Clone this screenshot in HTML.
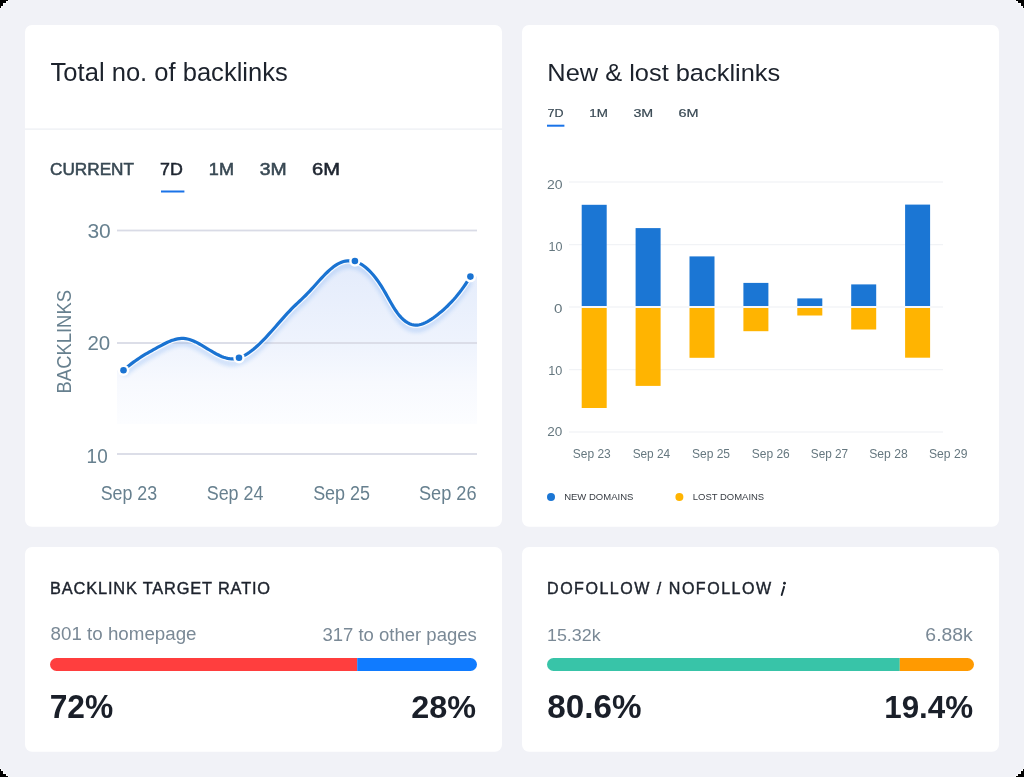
<!DOCTYPE html>
<html><head><meta charset="utf-8"><style>
html,body{margin:0;padding:0;background:#fff;}
svg{display:block;font-family:"Liberation Sans",sans-serif;will-change:transform;opacity:0.999;}
</style></head><body>
<svg width="1024" height="777" viewBox="0 0 1024 777">
<defs>
<linearGradient id="af" gradientUnits="userSpaceOnUse" x1="0" y1="258" x2="0" y2="424">
<stop offset="0" stop-color="#e3ebfb"/>
<stop offset="0.5" stop-color="#eef3fd"/>
<stop offset="0.75" stop-color="#f7f9fe"/>
<stop offset="1" stop-color="#fcfdff"/>
</linearGradient>
<filter id="glow" x="-10%" y="-20%" width="120%" height="150%"><feGaussianBlur stdDeviation="2"/></filter>
</defs>
<rect x="0" y="0" width="1024" height="777" fill="#f1f2f7"/>
<g shape-rendering="crispEdges"><rect x="0" y="0" width="8" height="1" fill="#000"/><rect x="0" y="1" width="6" height="1" fill="#000"/><rect x="0" y="2" width="6" height="1" fill="#000"/><rect x="0" y="3" width="3" height="1" fill="#000"/><rect x="0" y="4" width="3" height="1" fill="#000"/><rect x="0" y="5" width="3" height="1" fill="#000"/><rect x="0" y="6" width="1" height="1" fill="#000"/><rect x="0" y="7" width="1" height="1" fill="#000"/><rect x="8" y="0" width="1" height="1" fill="#fff" opacity="0.85"/><rect x="6" y="1" width="2" height="1" fill="#fff" opacity="0.85"/><rect x="6" y="2" width="1" height="1" fill="#fff" opacity="0.85"/><rect x="3" y="3" width="3" height="1" fill="#fff" opacity="0.85"/><rect x="3" y="4" width="1" height="1" fill="#fff" opacity="0.85"/><rect x="3" y="5" width="1" height="1" fill="#fff" opacity="0.85"/><rect x="1" y="6" width="2" height="1" fill="#fff" opacity="0.85"/><rect x="1" y="7" width="1" height="1" fill="#fff" opacity="0.85"/><rect x="0" y="8" width="1" height="1" fill="#fff" opacity="0.85"/><rect x="1016" y="0" width="8" height="1" fill="#000"/><rect x="1018" y="1" width="6" height="1" fill="#000"/><rect x="1018" y="2" width="6" height="1" fill="#000"/><rect x="1021" y="3" width="3" height="1" fill="#000"/><rect x="1021" y="4" width="3" height="1" fill="#000"/><rect x="1021" y="5" width="3" height="1" fill="#000"/><rect x="1023" y="6" width="1" height="1" fill="#000"/><rect x="1023" y="7" width="1" height="1" fill="#000"/><rect x="1015" y="0" width="1" height="1" fill="#fff" opacity="0.85"/><rect x="1016" y="1" width="2" height="1" fill="#fff" opacity="0.85"/><rect x="1017" y="2" width="1" height="1" fill="#fff" opacity="0.85"/><rect x="1018" y="3" width="3" height="1" fill="#fff" opacity="0.85"/><rect x="1020" y="4" width="1" height="1" fill="#fff" opacity="0.85"/><rect x="1020" y="5" width="1" height="1" fill="#fff" opacity="0.85"/><rect x="1021" y="6" width="2" height="1" fill="#fff" opacity="0.85"/><rect x="1022" y="7" width="1" height="1" fill="#fff" opacity="0.85"/><rect x="1023" y="8" width="1" height="1" fill="#fff" opacity="0.85"/><rect x="0" y="776" width="8" height="1" fill="#000"/><rect x="0" y="775" width="6" height="1" fill="#000"/><rect x="0" y="774" width="6" height="1" fill="#000"/><rect x="0" y="773" width="3" height="1" fill="#000"/><rect x="0" y="772" width="3" height="1" fill="#000"/><rect x="0" y="771" width="3" height="1" fill="#000"/><rect x="0" y="770" width="1" height="1" fill="#000"/><rect x="0" y="769" width="1" height="1" fill="#000"/><rect x="8" y="776" width="1" height="1" fill="#fff" opacity="0.85"/><rect x="6" y="775" width="2" height="1" fill="#fff" opacity="0.85"/><rect x="6" y="774" width="1" height="1" fill="#fff" opacity="0.85"/><rect x="3" y="773" width="3" height="1" fill="#fff" opacity="0.85"/><rect x="3" y="772" width="1" height="1" fill="#fff" opacity="0.85"/><rect x="3" y="771" width="1" height="1" fill="#fff" opacity="0.85"/><rect x="1" y="770" width="2" height="1" fill="#fff" opacity="0.85"/><rect x="1" y="769" width="1" height="1" fill="#fff" opacity="0.85"/><rect x="0" y="768" width="1" height="1" fill="#fff" opacity="0.85"/><rect x="1016" y="776" width="8" height="1" fill="#000"/><rect x="1018" y="775" width="6" height="1" fill="#000"/><rect x="1018" y="774" width="6" height="1" fill="#000"/><rect x="1021" y="773" width="3" height="1" fill="#000"/><rect x="1021" y="772" width="3" height="1" fill="#000"/><rect x="1021" y="771" width="3" height="1" fill="#000"/><rect x="1023" y="770" width="1" height="1" fill="#000"/><rect x="1023" y="769" width="1" height="1" fill="#000"/><rect x="1015" y="776" width="1" height="1" fill="#fff" opacity="0.85"/><rect x="1016" y="775" width="2" height="1" fill="#fff" opacity="0.85"/><rect x="1017" y="774" width="1" height="1" fill="#fff" opacity="0.85"/><rect x="1018" y="773" width="3" height="1" fill="#fff" opacity="0.85"/><rect x="1020" y="772" width="1" height="1" fill="#fff" opacity="0.85"/><rect x="1020" y="771" width="1" height="1" fill="#fff" opacity="0.85"/><rect x="1021" y="770" width="2" height="1" fill="#fff" opacity="0.85"/><rect x="1022" y="769" width="1" height="1" fill="#fff" opacity="0.85"/><rect x="1023" y="768" width="1" height="1" fill="#fff" opacity="0.85"/></g>
<rect x="25" y="25" width="477" height="501.7" rx="7" fill="#fff"/>
<rect x="522" y="25" width="477" height="501.7" rx="7" fill="#fff"/>
<rect x="25" y="547" width="477" height="204.8" rx="7" fill="#fff"/>
<rect x="522" y="547" width="477" height="204.8" rx="7" fill="#fff"/>
<rect x="25" y="128.5" width="477" height="1.2" fill="#eceef3"/>
<rect x="161" y="190.5" width="23.4" height="2" fill="#1a73e8"/>
<rect x="547" y="124.7" width="17.4" height="2" fill="#1a73e8"/>
<!-- bar chart grid -->
<rect x="569" y="181.5" width="374" height="1" fill="#eef0f4"/>
<rect x="569" y="244.2" width="374" height="1" fill="#eef0f4"/>
<rect x="569" y="306.5" width="374" height="1" fill="#eef0f4"/>
<rect x="569" y="369.2" width="374" height="1" fill="#eef0f4"/>
<rect x="569" y="431.5" width="374" height="1" fill="#eef0f4"/>
<rect x="581.7" y="204.8" width="25" height="101.2" fill="#1b76d4"/><rect x="581.7" y="308" width="25" height="100.0" fill="#ffb400"/><rect x="635.6" y="228.1" width="25" height="77.9" fill="#1b76d4"/><rect x="635.6" y="308" width="25" height="77.9" fill="#ffb400"/><rect x="689.5" y="256.4" width="25" height="49.6" fill="#1b76d4"/><rect x="689.5" y="308" width="25" height="49.8" fill="#ffb400"/><rect x="743.4" y="282.9" width="25" height="23.1" fill="#1b76d4"/><rect x="743.4" y="308" width="25" height="23.2" fill="#ffb400"/><rect x="797.3" y="298.4" width="25" height="7.6" fill="#1b76d4"/><rect x="797.3" y="308" width="25" height="7.5" fill="#ffb400"/><rect x="851.2" y="284.4" width="25" height="21.6" fill="#1b76d4"/><rect x="851.2" y="308" width="25" height="21.5" fill="#ffb400"/><rect x="905.1" y="204.6" width="25" height="101.4" fill="#1b76d4"/><rect x="905.1" y="308" width="25" height="49.7" fill="#ffb400"/>
<path d="M123.50,370.30 L125.50,368.52 L127.50,366.82 L129.50,365.19 L131.50,363.63 L133.50,362.14 L135.50,360.70 L137.50,359.32 L139.50,357.99 L141.50,356.70 L143.50,355.45 L145.50,354.24 L147.50,353.06 L149.50,351.91 L151.50,350.78 L153.50,349.66 L155.50,348.56 L157.50,347.47 L159.50,346.38 L161.50,345.30 L163.50,344.25 L165.50,343.24 L167.50,342.29 L169.50,341.41 L171.50,340.61 L173.50,339.92 L175.50,339.34 L177.50,338.89 L179.50,338.58 L181.50,338.43 L183.50,338.45 L185.50,338.66 L187.50,339.03 L189.50,339.57 L191.50,340.24 L193.50,341.03 L195.50,341.94 L197.50,342.94 L199.50,344.01 L201.50,345.15 L203.50,346.33 L205.50,347.54 L207.50,348.76 L209.50,349.99 L211.50,351.19 L213.50,352.36 L215.50,353.48 L217.50,354.54 L219.50,355.52 L221.50,356.40 L223.50,357.17 L225.50,357.81 L227.50,358.31 L229.50,358.64 L231.50,358.81 L233.50,358.78 L235.50,358.56 L237.50,358.15 L239.50,357.56 L241.50,356.80 L243.50,355.89 L245.50,354.82 L247.50,353.61 L249.50,352.27 L251.50,350.80 L253.50,349.21 L255.50,347.52 L257.50,345.73 L259.50,343.86 L261.50,341.90 L263.50,339.87 L265.50,337.78 L267.50,335.63 L269.50,333.44 L271.50,331.22 L273.50,328.96 L275.50,326.69 L277.50,324.41 L279.50,322.13 L281.50,319.86 L283.50,317.61 L285.50,315.38 L287.50,313.19 L289.50,311.05 L291.50,308.97 L293.50,306.95 L295.50,305.00 L297.50,303.11 L299.50,301.23 L301.50,299.36 L303.50,297.45 L305.50,295.49 L307.50,293.45 L309.50,291.33 L311.50,289.16 L313.50,286.96 L315.50,284.73 L317.50,282.51 L319.50,280.30 L321.50,278.12 L323.50,276.00 L325.50,273.95 L327.50,271.99 L329.50,270.14 L331.50,268.41 L333.50,266.82 L335.50,265.39 L337.50,264.14 L339.50,263.08 L341.50,262.22 L343.50,261.55 L345.50,261.09 L347.50,260.82 L349.50,260.74 L351.50,260.87 L353.50,261.19 L355.50,261.71 L357.50,262.43 L359.50,263.34 L361.50,264.45 L363.50,265.76 L365.50,267.26 L367.50,268.97 L369.50,270.87 L371.50,272.97 L373.50,275.26 L375.50,277.76 L377.50,280.45 L379.50,283.34 L381.50,286.42 L383.50,289.71 L385.50,293.16 L387.50,296.72 L389.50,300.29 L391.50,303.80 L393.50,307.16 L395.50,310.28 L397.50,313.13 L399.50,315.65 L401.50,317.86 L403.50,319.77 L405.50,321.37 L407.50,322.68 L409.50,323.70 L411.50,324.44 L413.50,324.91 L415.50,325.10 L417.50,325.04 L419.50,324.75 L421.50,324.23 L423.50,323.52 L425.50,322.64 L427.50,321.59 L429.50,320.41 L431.50,319.11 L433.50,317.71 L435.50,316.24 L437.50,314.70 L439.50,313.10 L441.50,311.43 L443.50,309.70 L445.50,307.88 L447.50,305.98 L449.50,303.99 L451.50,301.91 L453.50,299.73 L455.50,297.45 L457.50,295.05 L459.50,292.54 L461.50,289.91 L463.50,287.15 L465.50,284.26 L467.50,281.24 L469.50,278.07 L470.40,276.59 L477,276.60 L477,424 L117,424 L117,370.30 Z" fill="url(#af)"/>
<rect x="117" y="229.6" width="360" height="1.8" fill="#d9dbe6"/>
<rect x="117" y="342.1" width="360" height="1.8" fill="#d9dbe6"/>
<rect x="117" y="453.1" width="360" height="1.8" fill="#d9dbe6"/>
<path d="M123.50,370.30 L125.50,368.52 L127.50,366.82 L129.50,365.19 L131.50,363.63 L133.50,362.14 L135.50,360.70 L137.50,359.32 L139.50,357.99 L141.50,356.70 L143.50,355.45 L145.50,354.24 L147.50,353.06 L149.50,351.91 L151.50,350.78 L153.50,349.66 L155.50,348.56 L157.50,347.47 L159.50,346.38 L161.50,345.30 L163.50,344.25 L165.50,343.24 L167.50,342.29 L169.50,341.41 L171.50,340.61 L173.50,339.92 L175.50,339.34 L177.50,338.89 L179.50,338.58 L181.50,338.43 L183.50,338.45 L185.50,338.66 L187.50,339.03 L189.50,339.57 L191.50,340.24 L193.50,341.03 L195.50,341.94 L197.50,342.94 L199.50,344.01 L201.50,345.15 L203.50,346.33 L205.50,347.54 L207.50,348.76 L209.50,349.99 L211.50,351.19 L213.50,352.36 L215.50,353.48 L217.50,354.54 L219.50,355.52 L221.50,356.40 L223.50,357.17 L225.50,357.81 L227.50,358.31 L229.50,358.64 L231.50,358.81 L233.50,358.78 L235.50,358.56 L237.50,358.15 L239.50,357.56 L241.50,356.80 L243.50,355.89 L245.50,354.82 L247.50,353.61 L249.50,352.27 L251.50,350.80 L253.50,349.21 L255.50,347.52 L257.50,345.73 L259.50,343.86 L261.50,341.90 L263.50,339.87 L265.50,337.78 L267.50,335.63 L269.50,333.44 L271.50,331.22 L273.50,328.96 L275.50,326.69 L277.50,324.41 L279.50,322.13 L281.50,319.86 L283.50,317.61 L285.50,315.38 L287.50,313.19 L289.50,311.05 L291.50,308.97 L293.50,306.95 L295.50,305.00 L297.50,303.11 L299.50,301.23 L301.50,299.36 L303.50,297.45 L305.50,295.49 L307.50,293.45 L309.50,291.33 L311.50,289.16 L313.50,286.96 L315.50,284.73 L317.50,282.51 L319.50,280.30 L321.50,278.12 L323.50,276.00 L325.50,273.95 L327.50,271.99 L329.50,270.14 L331.50,268.41 L333.50,266.82 L335.50,265.39 L337.50,264.14 L339.50,263.08 L341.50,262.22 L343.50,261.55 L345.50,261.09 L347.50,260.82 L349.50,260.74 L351.50,260.87 L353.50,261.19 L355.50,261.71 L357.50,262.43 L359.50,263.34 L361.50,264.45 L363.50,265.76 L365.50,267.26 L367.50,268.97 L369.50,270.87 L371.50,272.97 L373.50,275.26 L375.50,277.76 L377.50,280.45 L379.50,283.34 L381.50,286.42 L383.50,289.71 L385.50,293.16 L387.50,296.72 L389.50,300.29 L391.50,303.80 L393.50,307.16 L395.50,310.28 L397.50,313.13 L399.50,315.65 L401.50,317.86 L403.50,319.77 L405.50,321.37 L407.50,322.68 L409.50,323.70 L411.50,324.44 L413.50,324.91 L415.50,325.10 L417.50,325.04 L419.50,324.75 L421.50,324.23 L423.50,323.52 L425.50,322.64 L427.50,321.59 L429.50,320.41 L431.50,319.11 L433.50,317.71 L435.50,316.24 L437.50,314.70 L439.50,313.10 L441.50,311.43 L443.50,309.70 L445.50,307.88 L447.50,305.98 L449.50,303.99 L451.50,301.91 L453.50,299.73 L455.50,297.45 L457.50,295.05 L459.50,292.54 L461.50,289.91 L463.50,287.15 L465.50,284.26 L467.50,281.24 L469.50,278.07 L470.40,276.59" fill="none" stroke="#1a73e8" stroke-width="4" transform="translate(0,5)" filter="url(#glow)" opacity="0.22"/>
<path d="M123.50,370.30 L125.50,368.52 L127.50,366.82 L129.50,365.19 L131.50,363.63 L133.50,362.14 L135.50,360.70 L137.50,359.32 L139.50,357.99 L141.50,356.70 L143.50,355.45 L145.50,354.24 L147.50,353.06 L149.50,351.91 L151.50,350.78 L153.50,349.66 L155.50,348.56 L157.50,347.47 L159.50,346.38 L161.50,345.30 L163.50,344.25 L165.50,343.24 L167.50,342.29 L169.50,341.41 L171.50,340.61 L173.50,339.92 L175.50,339.34 L177.50,338.89 L179.50,338.58 L181.50,338.43 L183.50,338.45 L185.50,338.66 L187.50,339.03 L189.50,339.57 L191.50,340.24 L193.50,341.03 L195.50,341.94 L197.50,342.94 L199.50,344.01 L201.50,345.15 L203.50,346.33 L205.50,347.54 L207.50,348.76 L209.50,349.99 L211.50,351.19 L213.50,352.36 L215.50,353.48 L217.50,354.54 L219.50,355.52 L221.50,356.40 L223.50,357.17 L225.50,357.81 L227.50,358.31 L229.50,358.64 L231.50,358.81 L233.50,358.78 L235.50,358.56 L237.50,358.15 L239.50,357.56 L241.50,356.80 L243.50,355.89 L245.50,354.82 L247.50,353.61 L249.50,352.27 L251.50,350.80 L253.50,349.21 L255.50,347.52 L257.50,345.73 L259.50,343.86 L261.50,341.90 L263.50,339.87 L265.50,337.78 L267.50,335.63 L269.50,333.44 L271.50,331.22 L273.50,328.96 L275.50,326.69 L277.50,324.41 L279.50,322.13 L281.50,319.86 L283.50,317.61 L285.50,315.38 L287.50,313.19 L289.50,311.05 L291.50,308.97 L293.50,306.95 L295.50,305.00 L297.50,303.11 L299.50,301.23 L301.50,299.36 L303.50,297.45 L305.50,295.49 L307.50,293.45 L309.50,291.33 L311.50,289.16 L313.50,286.96 L315.50,284.73 L317.50,282.51 L319.50,280.30 L321.50,278.12 L323.50,276.00 L325.50,273.95 L327.50,271.99 L329.50,270.14 L331.50,268.41 L333.50,266.82 L335.50,265.39 L337.50,264.14 L339.50,263.08 L341.50,262.22 L343.50,261.55 L345.50,261.09 L347.50,260.82 L349.50,260.74 L351.50,260.87 L353.50,261.19 L355.50,261.71 L357.50,262.43 L359.50,263.34 L361.50,264.45 L363.50,265.76 L365.50,267.26 L367.50,268.97 L369.50,270.87 L371.50,272.97 L373.50,275.26 L375.50,277.76 L377.50,280.45 L379.50,283.34 L381.50,286.42 L383.50,289.71 L385.50,293.16 L387.50,296.72 L389.50,300.29 L391.50,303.80 L393.50,307.16 L395.50,310.28 L397.50,313.13 L399.50,315.65 L401.50,317.86 L403.50,319.77 L405.50,321.37 L407.50,322.68 L409.50,323.70 L411.50,324.44 L413.50,324.91 L415.50,325.10 L417.50,325.04 L419.50,324.75 L421.50,324.23 L423.50,323.52 L425.50,322.64 L427.50,321.59 L429.50,320.41 L431.50,319.11 L433.50,317.71 L435.50,316.24 L437.50,314.70 L439.50,313.10 L441.50,311.43 L443.50,309.70 L445.50,307.88 L447.50,305.98 L449.50,303.99 L451.50,301.91 L453.50,299.73 L455.50,297.45 L457.50,295.05 L459.50,292.54 L461.50,289.91 L463.50,287.15 L465.50,284.26 L467.50,281.24 L469.50,278.07 L470.40,276.59" fill="none" stroke="#fff" stroke-width="5.5" stroke-linecap="round" opacity="0.85"/>
<path d="M123.50,370.30 L125.50,368.52 L127.50,366.82 L129.50,365.19 L131.50,363.63 L133.50,362.14 L135.50,360.70 L137.50,359.32 L139.50,357.99 L141.50,356.70 L143.50,355.45 L145.50,354.24 L147.50,353.06 L149.50,351.91 L151.50,350.78 L153.50,349.66 L155.50,348.56 L157.50,347.47 L159.50,346.38 L161.50,345.30 L163.50,344.25 L165.50,343.24 L167.50,342.29 L169.50,341.41 L171.50,340.61 L173.50,339.92 L175.50,339.34 L177.50,338.89 L179.50,338.58 L181.50,338.43 L183.50,338.45 L185.50,338.66 L187.50,339.03 L189.50,339.57 L191.50,340.24 L193.50,341.03 L195.50,341.94 L197.50,342.94 L199.50,344.01 L201.50,345.15 L203.50,346.33 L205.50,347.54 L207.50,348.76 L209.50,349.99 L211.50,351.19 L213.50,352.36 L215.50,353.48 L217.50,354.54 L219.50,355.52 L221.50,356.40 L223.50,357.17 L225.50,357.81 L227.50,358.31 L229.50,358.64 L231.50,358.81 L233.50,358.78 L235.50,358.56 L237.50,358.15 L239.50,357.56 L241.50,356.80 L243.50,355.89 L245.50,354.82 L247.50,353.61 L249.50,352.27 L251.50,350.80 L253.50,349.21 L255.50,347.52 L257.50,345.73 L259.50,343.86 L261.50,341.90 L263.50,339.87 L265.50,337.78 L267.50,335.63 L269.50,333.44 L271.50,331.22 L273.50,328.96 L275.50,326.69 L277.50,324.41 L279.50,322.13 L281.50,319.86 L283.50,317.61 L285.50,315.38 L287.50,313.19 L289.50,311.05 L291.50,308.97 L293.50,306.95 L295.50,305.00 L297.50,303.11 L299.50,301.23 L301.50,299.36 L303.50,297.45 L305.50,295.49 L307.50,293.45 L309.50,291.33 L311.50,289.16 L313.50,286.96 L315.50,284.73 L317.50,282.51 L319.50,280.30 L321.50,278.12 L323.50,276.00 L325.50,273.95 L327.50,271.99 L329.50,270.14 L331.50,268.41 L333.50,266.82 L335.50,265.39 L337.50,264.14 L339.50,263.08 L341.50,262.22 L343.50,261.55 L345.50,261.09 L347.50,260.82 L349.50,260.74 L351.50,260.87 L353.50,261.19 L355.50,261.71 L357.50,262.43 L359.50,263.34 L361.50,264.45 L363.50,265.76 L365.50,267.26 L367.50,268.97 L369.50,270.87 L371.50,272.97 L373.50,275.26 L375.50,277.76 L377.50,280.45 L379.50,283.34 L381.50,286.42 L383.50,289.71 L385.50,293.16 L387.50,296.72 L389.50,300.29 L391.50,303.80 L393.50,307.16 L395.50,310.28 L397.50,313.13 L399.50,315.65 L401.50,317.86 L403.50,319.77 L405.50,321.37 L407.50,322.68 L409.50,323.70 L411.50,324.44 L413.50,324.91 L415.50,325.10 L417.50,325.04 L419.50,324.75 L421.50,324.23 L423.50,323.52 L425.50,322.64 L427.50,321.59 L429.50,320.41 L431.50,319.11 L433.50,317.71 L435.50,316.24 L437.50,314.70 L439.50,313.10 L441.50,311.43 L443.50,309.70 L445.50,307.88 L447.50,305.98 L449.50,303.99 L451.50,301.91 L453.50,299.73 L455.50,297.45 L457.50,295.05 L459.50,292.54 L461.50,289.91 L463.50,287.15 L465.50,284.26 L467.50,281.24 L469.50,278.07 L470.40,276.59" fill="none" stroke="#1a73d2" stroke-width="3.2" stroke-linecap="round"/>
<circle cx="123.5" cy="370.3" r="5.7" fill="#fff"/><circle cx="123.5" cy="370.3" r="3.3" fill="#1a73d2"/><circle cx="239" cy="357.8" r="5.7" fill="#fff"/><circle cx="239" cy="357.8" r="3.3" fill="#1a73d2"/><circle cx="354.9" cy="261" r="5.7" fill="#fff"/><circle cx="354.9" cy="261" r="3.3" fill="#1a73d2"/><circle cx="470.4" cy="276.6" r="5.7" fill="#fff"/><circle cx="470.4" cy="276.6" r="3.3" fill="#1a73d2"/>
<circle cx="551" cy="497" r="4" fill="#1b76d4"/>
<circle cx="679.4" cy="497" r="4" fill="#ffb400"/>
<!-- progress bars -->
<clipPath id="pb1"><rect x="50" y="658" width="427" height="13" rx="6.5"/></clipPath>
<g clip-path="url(#pb1)"><rect x="50" y="658" width="307.2" height="13" fill="#ff3e3e"/><rect x="357.2" y="658" width="120" height="13" fill="#107bff"/></g>
<clipPath id="pb2"><rect x="547" y="658" width="427" height="13" rx="6.5"/></clipPath>
<g clip-path="url(#pb2)"><rect x="547" y="658" width="352.8" height="13" fill="#38c4a8"/><rect x="899.8" y="658" width="80" height="13" fill="#ff9a00"/></g>
<text x="50.60" y="81.00" font-size="25.19"  textLength="237.20" lengthAdjust="spacingAndGlyphs" fill="#1c222c">Total no. of backlinks</text><text x="49.97" y="175.03" font-size="17.42"  textLength="84.05" lengthAdjust="spacingAndGlyphs" fill="#384853" stroke="#384853" stroke-width="0.55">CURRENT</text><text x="160.04" y="175.03" font-size="17.42"  textLength="22.80" lengthAdjust="spacingAndGlyphs" fill="#1e2530" stroke="#1e2530" stroke-width="0.55">7D</text><text x="208.85" y="175.03" font-size="17.42"  textLength="25.10" lengthAdjust="spacingAndGlyphs" fill="#384853" stroke="#384853" stroke-width="0.55">1M</text><text x="259.67" y="175.03" font-size="17.42"  textLength="26.96" lengthAdjust="spacingAndGlyphs" fill="#384853" stroke="#384853" stroke-width="0.55">3M</text><text x="312.13" y="175.03" font-size="17.42"  textLength="27.95" lengthAdjust="spacingAndGlyphs" fill="#1e2530" stroke="#1e2530" stroke-width="0.55">6M</text><text transform="translate(70.5,392) rotate(-90)" x="-1.44" y="0" font-size="19.77"  textLength="103.41" lengthAdjust="spacingAndGlyphs" fill="#67808f">BACKLINKS</text><text x="87.44" y="238.00" font-size="19.30"  textLength="23.38" lengthAdjust="spacingAndGlyphs" fill="#67808f">30</text><text x="87.44" y="350.30" font-size="19.30"  textLength="22.77" lengthAdjust="spacingAndGlyphs" fill="#67808f">20</text><text x="86.62" y="462.80" font-size="19.30"  textLength="21.05" lengthAdjust="spacingAndGlyphs" fill="#67808f">10</text><text x="100.69" y="500.40" font-size="19.48"  textLength="56.53" lengthAdjust="spacingAndGlyphs" fill="#67808f">Sep 23</text><text x="206.74" y="500.40" font-size="19.48"  textLength="56.70" lengthAdjust="spacingAndGlyphs" fill="#67808f">Sep 24</text><text x="313.14" y="500.40" font-size="19.48"  textLength="56.89" lengthAdjust="spacingAndGlyphs" fill="#67808f">Sep 25</text><text x="418.93" y="500.40" font-size="19.48"  textLength="57.60" lengthAdjust="spacingAndGlyphs" fill="#67808f">Sep 26</text><text x="547.32" y="81.20" font-size="24.37"  textLength="232.88" lengthAdjust="spacingAndGlyphs" fill="#1c222c">New &amp; lost backlinks</text><text x="547.51" y="117.30" font-size="11.52"  textLength="16.02" lengthAdjust="spacingAndGlyphs" fill="#384853" stroke="#384853" stroke-width="0.2">7D</text><text x="589.36" y="117.30" font-size="11.52"  textLength="18.64" lengthAdjust="spacingAndGlyphs" fill="#384853" stroke="#384853" stroke-width="0.2">1M</text><text x="633.45" y="117.30" font-size="11.52"  textLength="19.81" lengthAdjust="spacingAndGlyphs" fill="#384853" stroke="#384853" stroke-width="0.2">3M</text><text x="678.52" y="117.30" font-size="11.52"  textLength="20.05" lengthAdjust="spacingAndGlyphs" fill="#384853" stroke="#384853" stroke-width="0.2">6M</text><text x="546.94" y="189.00" font-size="12.40"  textLength="15.61" lengthAdjust="spacingAndGlyphs" fill="#65777f">20</text><text x="548.51" y="251.20" font-size="12.40"  textLength="14.00" lengthAdjust="spacingAndGlyphs" fill="#65777f">10</text><text x="553.92" y="312.80" font-size="12.40"  textLength="8.45" lengthAdjust="spacingAndGlyphs" fill="#65777f">0</text><text x="548.21" y="374.70" font-size="12.40"  textLength="14.11" lengthAdjust="spacingAndGlyphs" fill="#65777f">10</text><text x="547.26" y="436.00" font-size="12.40"  textLength="15.07" lengthAdjust="spacingAndGlyphs" fill="#65777f">20</text><text x="572.83" y="458.20" font-size="12.52"  textLength="37.96" lengthAdjust="spacingAndGlyphs" fill="#65777f">Sep 23</text><text x="632.63" y="458.20" font-size="12.52"  textLength="37.57" lengthAdjust="spacingAndGlyphs" fill="#65777f">Sep 24</text><text x="691.92" y="458.20" font-size="12.52"  textLength="38.16" lengthAdjust="spacingAndGlyphs" fill="#65777f">Sep 25</text><text x="751.72" y="458.20" font-size="12.52"  textLength="38.06" lengthAdjust="spacingAndGlyphs" fill="#65777f">Sep 26</text><text x="810.83" y="458.20" font-size="12.52"  textLength="37.35" lengthAdjust="spacingAndGlyphs" fill="#65777f">Sep 27</text><text x="869.22" y="458.20" font-size="12.52"  textLength="38.47" lengthAdjust="spacingAndGlyphs" fill="#65777f">Sep 28</text><text x="929.02" y="458.20" font-size="12.52"  textLength="38.47" lengthAdjust="spacingAndGlyphs" fill="#65777f">Sep 29</text><text x="564.16" y="500.30" font-size="9.81"  textLength="69.24" lengthAdjust="spacingAndGlyphs" fill="#373c43">NEW DOMAINS</text><text x="692.76" y="500.30" font-size="9.81"  textLength="71.44" lengthAdjust="spacingAndGlyphs" fill="#373c43">LOST DOMAINS</text><text x="50.12" y="593.90" font-size="16.36"  letter-spacing="0.831" fill="#1c222c" stroke="#1c222c" stroke-width="0.4">BACKLINK TARGET RATIO</text><text x="50.61" y="640.30" font-size="17.57"  textLength="145.95" lengthAdjust="spacingAndGlyphs" fill="#7a8996">801 to homepage</text><text x="322.42" y="641.00" font-size="18.11"  textLength="154.36" lengthAdjust="spacingAndGlyphs" fill="#7a8996">317 to other pages</text><text x="49.71" y="718.20" font-size="33.00"  textLength="63.54" lengthAdjust="spacingAndGlyphs" fill="#1a1f29" font-weight="bold">72%</text><text x="411.29" y="717.80" font-size="32.28"  textLength="64.77" lengthAdjust="spacingAndGlyphs" fill="#1a1f29" font-weight="bold">28%</text><text x="547.04" y="593.90" font-size="16.07"  letter-spacing="1.495" fill="#1c222c" stroke="#1c222c" stroke-width="0.4">DOFOLLOW / NOFOLLOW</text><text x="546.98" y="640.60" font-size="16.61"  textLength="53.74" lengthAdjust="spacingAndGlyphs" fill="#7a8996">15.32k</text><text x="925.39" y="640.90" font-size="17.43"  textLength="47.41" lengthAdjust="spacingAndGlyphs" fill="#7a8996">6.88k</text><text x="547.16" y="718.20" font-size="32.43"  textLength="94.31" lengthAdjust="spacingAndGlyphs" fill="#1a1f29" font-weight="bold">80.6%</text><text x="884.24" y="717.70" font-size="31.86"  textLength="88.90" lengthAdjust="spacingAndGlyphs" fill="#1a1f29" font-weight="bold">19.4%</text>
<line x1="784.1" y1="586.8" x2="781.7" y2="595.1" stroke="#1c222c" stroke-width="1.9" stroke-linecap="round"/><circle cx="784.5" cy="583.2" r="1.45" fill="#1c222c"/>
</svg>
</body></html>
